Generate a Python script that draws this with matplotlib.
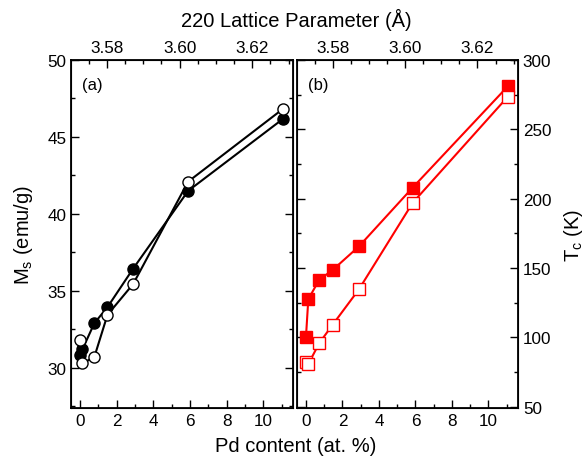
import numpy as np
import matplotlib
matplotlib.use('Agg')
import matplotlib.pyplot as plt
from matplotlib.ticker import MultipleLocator

plt.rcParams['font.family'] = ['Liberation Sans', 'DejaVu Sans']
plt.rcParams['mathtext.fontset'] = 'custom'
plt.rcParams['mathtext.rm'] = 'Liberation Sans'
plt.rcParams['mathtext.it'] = 'Liberation Sans'

# ── data ─────────────────────────────────────────────────────────────────────
pd_content = [0, 0.13, 0.78, 1.5, 2.9, 5.9, 11.1]
ms_filled  = [30.85, 31.2, 32.9, 33.95, 36.45, 41.5, 46.2]
ms_open    = [31.8, 30.3, 30.7, 33.45, 35.45, 42.1, 46.85]

pd_tc      = [0, 0.13, 0.73, 1.46, 2.9, 5.85, 11.06]
tc_filled  = [100, 127.5, 141.5, 148.5, 165.5, 208, 281]
tc_open    = [82.5, 80.7, 95.8, 109, 134.5, 197, 273.5]

PD_LIM  = (-0.49, 11.62)
LAT_LIM = (3.5701, 3.6312)

# ── figure ───────────────────────────────────────────────────────────────────
fig = plt.figure(figsize=(5.87, 4.60), dpi=100)
axA = fig.add_axes([71/587, 1 - 409/460, 222/587, 348/460])
axB = fig.add_axes([297/587, 1 - 409/460, 221/587, 348/460])

TICK = dict(direction='in', labelsize=12.3, width=1.0)

def style(ax, ymaj, ymin):
    ax.set_xlim(*PD_LIM)
    ax.xaxis.set_major_locator(MultipleLocator(2))
    ax.xaxis.set_minor_locator(MultipleLocator(1))
    ax.yaxis.set_major_locator(MultipleLocator(ymaj))
    ax.yaxis.set_minor_locator(MultipleLocator(ymin))
    ax.tick_params(which='major', length=6, left=True, right=True, top=False, **TICK)
    ax.tick_params(which='minor', length=3, left=True, right=True, top=False, **TICK)
    for s in ax.spines.values():
        s.set_linewidth(1.3)
    # lattice parameter axis on top
    top = ax.twiny()
    top.set_xlim(*LAT_LIM)
    top.xaxis.set_major_locator(MultipleLocator(0.02))
    top.xaxis.set_minor_locator(MultipleLocator(0.005))
    top.xaxis.set_major_formatter(plt.FormatStrFormatter('%.2f'))
    top.tick_params(which='major', length=6, **TICK)
    top.tick_params(which='minor', length=3, **TICK)
    return top

# (a) magnetisation
axA.plot(pd_content, ms_filled, '-o', color='black', lw=1.5, ms=8,
         mfc='black', mec='black', zorder=3)
axA.plot(pd_content, ms_open, '-o', color='black', lw=1.5, ms=8,
         mfc='white', mec='black', zorder=4)
axA.set_ylim(27.4, 50)
style(axA, 5, 2.5)
axA.set_ylabel('M$_\\mathregular{s}$ (emu/g)', fontsize=14.5, labelpad=9)
axA.text(0.05, 0.95, '(a)', transform=axA.transAxes, fontsize=12,
         ha='left', va='top')

# (b) Curie temperature
red = '#ff0000'
axB.plot(pd_tc, tc_filled, '-s', color=red, lw=1.5, ms=8,
         mfc=red, mec=red, zorder=3)
axB.plot(pd_tc, tc_open, '-s', color=red, lw=1.5, ms=8,
         mfc='white', mec=red, zorder=4)
axB.set_ylim(49, 300)
style(axB, 50, 25)
axB.tick_params(axis='y', which='both', labelleft=False, labelright=True)
axB.yaxis.set_label_position('right')
axB.set_ylabel('T$_\\mathregular{c}$ (K)', fontsize=14.5, labelpad=8)
axB.text(0.05, 0.95, '(b)', transform=axB.transAxes, fontsize=12,
         ha='left', va='top')

fig.text(296/587, 1 - 20/460, '220 Lattice Parameter (Å)', fontsize=14.5,
         ha='center', va='center')
fig.text(296/587, 1 - 447/460, 'Pd content (at. %)', fontsize=14.5,
         ha='center', va='center')

fig.savefig('out.png', dpi=100)
